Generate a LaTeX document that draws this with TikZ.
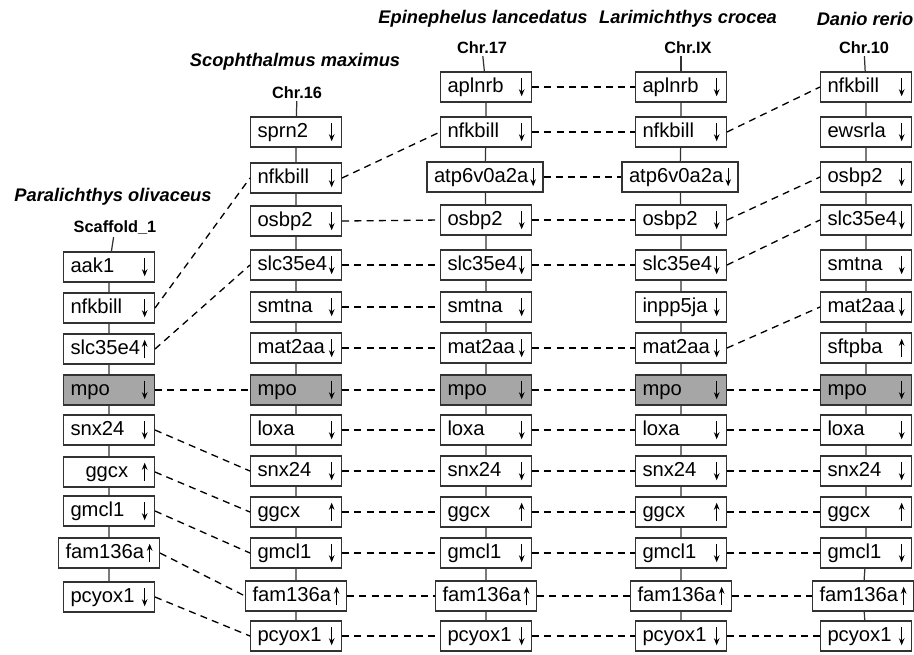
\documentclass[tikz,border=0pt]{standalone}
\usepackage{fontspec}
\setmainfont{Liberation Sans}
\usepackage{tikz}
\usetikzlibrary{positioning, arrows.meta}
\definecolor{boxline}{RGB}{50,50,50}
\definecolor{mpofill}{RGB}{166,166,166}
\newcommand{\genedn}{\tikz[baseline=0pt, x=1cm, y=1cm]\draw[line width=0.5pt, -{Stealth[length=4pt, width=3.2pt]}] (0,0.29) -- (0,-0.08);}
\newcommand{\geneup}{\tikz[baseline=0pt, x=1cm, y=1cm]\draw[line width=0.5pt, -{Stealth[length=4pt, width=3.2pt]}] (0,-0.08) -- (0,0.29);}

\begin{document}
\begin{tikzpicture}[x=0.02cm, y=-0.02cm,
        gene/.style={rectangle, draw=boxline, line width=0.6pt, fill=white, minimum height=0.6cm, inner xsep=0.14cm, inner ysep=0pt, text width=1.54cm, align=left, font=\fontsize{11.5}{13}\selectfont},
        widegene/.style={gene, text width=1.74cm},
        widestgene/.style={gene, text width=2.04cm},
        query/.style={fill=mpofill},
        species/.style={font=\fontsize{10.4}{12}\selectfont\bfseries\itshape},
        chrom/.style={font=\fontsize{9.3}{11}\selectfont\bfseries, inner sep=1pt},
        chain/.style={draw=boxline, line width=0.7pt},
        link/.style={black, line width=0.75pt, dash pattern=on 4pt off 3pt}
    ]
        \useasboundingbox (0,0) rectangle (914,654);

        \node[species] (po-name) at (113,197) {Paralichthys olivaceus};
        \node[species] (sm-name) at (295,62) {Scophthalmus maximus};
        \node[species] (el-name) at (483,19) {Epinephelus lancedatus};
        \node[species] (lc-name) at (688,19) {Larimichthys crocea};
        \node[species] (dr-name) at (865,19) {Danio rerio};

        \node[chrom] (po-chr) at (115,228) {Scaffold\_1};
        \node[chrom] (sm-chr) at (297,93) {Chr.16};
        \node[chrom] (el-chr) at (482,48) {Chr.17};
        \node[chrom] (lc-chr) at (688,48) {Chr.IX};
        \node[chrom] (dr-chr) at (864,48) {Chr.10};

        \node[gene] (po-aak1) at (109,267) {aak1\hfill\genedn};
        \node[gene] (po-nfkbill) at (109,308) {nfkbill\hfill\genedn};
        \node[gene] (po-slc35e4) at (109,349) {slc35e4\hfill\geneup};
        \node[gene, query] (po-mpo) at (109,390) {mpo\hfill\genedn};
        \node[gene] (po-snx24) at (109,430) {snx24\hfill\genedn};
        \node[gene] (po-ggcx) at (109,472) {\hspace*{0.3cm}ggcx\hfill\geneup};
        \node[gene] (po-gmcl1) at (109,511) {gmcl1\hfill\genedn};
        \node[widegene] (po-fam136a) at (109,553) {fam136a\hfill\geneup};
        \node[gene] (po-pcyox1) at (109,597) {pcyox1\hfill\genedn};

        \node[gene] (sm-sprn2) at (296,132) {sprn2\hfill\genedn};
        \node[gene] (sm-nfkbill) at (296,178) {nfkbill\hfill\genedn};
        \node[gene] (sm-osbp2) at (296,221) {osbp2\hfill\genedn};
        \node[gene] (sm-slc35e4) at (296,265) {slc35e4\hfill\genedn};
        \node[gene] (sm-smtna) at (296,307) {smtna\hfill\genedn};
        \node[gene] (sm-mat2aa) at (296,348) {mat2aa\hfill\genedn};
        \node[gene, query] (sm-mpo) at (296,390) {mpo\hfill\genedn};
        \node[gene] (sm-loxa) at (296,430) {loxa\hfill\genedn};
        \node[gene] (sm-snx24) at (296,471) {snx24\hfill\genedn};
        \node[gene] (sm-ggcx) at (296,512) {ggcx\hfill\geneup};
        \node[gene] (sm-gmcl1) at (296,553) {gmcl1\hfill\genedn};
        \node[widegene] (sm-fam136a) at (296,596) {fam136a\hfill\geneup};
        \node[gene] (sm-pcyox1) at (296,636) {pcyox1\hfill\genedn};

        \node[gene] (el-aplnrb) at (486,87) {aplnrb\hfill\genedn};
        \node[gene] (el-nfkbill) at (486,132) {nfkbill\hfill\genedn};
        \node[widestgene] (el-atp6v0a2a) at (485,177) {atp6v0a2a\hfill\genedn};
        \node[gene] (el-osbp2) at (486,220) {osbp2\hfill\genedn};
        \node[gene] (el-slc35e4) at (486,265) {slc35e4\hfill\genedn};
        \node[gene] (el-smtna) at (486,307) {smtna\hfill\genedn};
        \node[gene] (el-mat2aa) at (486,348) {mat2aa\hfill\genedn};
        \node[gene, query] (el-mpo) at (486,390) {mpo\hfill\genedn};
        \node[gene] (el-loxa) at (486,430) {loxa\hfill\genedn};
        \node[gene] (el-snx24) at (486,471) {snx24\hfill\genedn};
        \node[gene] (el-ggcx) at (486,512) {ggcx\hfill\geneup};
        \node[gene] (el-gmcl1) at (486,553) {gmcl1\hfill\genedn};
        \node[widegene] (el-fam136a) at (486,596) {fam136a\hfill\geneup};
        \node[gene] (el-pcyox1) at (486,636) {pcyox1\hfill\genedn};

        \node[gene] (lc-aplnrb) at (681,87) {aplnrb\hfill\genedn};
        \node[gene] (lc-nfkbill) at (681,132) {nfkbill\hfill\genedn};
        \node[widestgene] (lc-atp6v0a2a) at (680,177) {atp6v0a2a\hfill\genedn};
        \node[gene] (lc-osbp2) at (681,220) {osbp2\hfill\genedn};
        \node[gene] (lc-slc35e4) at (681,265) {slc35e4\hfill\genedn};
        \node[gene] (lc-inpp5ja) at (681,307) {inpp5ja\hfill\genedn};
        \node[gene] (lc-mat2aa) at (681,348) {mat2aa\hfill\genedn};
        \node[gene, query] (lc-mpo) at (681,390) {mpo\hfill\genedn};
        \node[gene] (lc-loxa) at (681,430) {loxa\hfill\genedn};
        \node[gene] (lc-snx24) at (681,471) {snx24\hfill\genedn};
        \node[gene] (lc-ggcx) at (681,512) {ggcx\hfill\geneup};
        \node[gene] (lc-gmcl1) at (681,553) {gmcl1\hfill\genedn};
        \node[widegene] (lc-fam136a) at (681,596) {fam136a\hfill\geneup};
        \node[gene] (lc-pcyox1) at (681,636) {pcyox1\hfill\genedn};

        \node[gene] (dr-nfkbill) at (866,87) {nfkbill\hfill\genedn};
        \node[gene] (dr-ewsrla) at (866,132) {ewsrla\hfill\genedn};
        \node[gene] (dr-osbp2) at (866,177) {osbp2\hfill\genedn};
        \node[gene] (dr-slc35e4) at (866,220) {slc35e4\hfill\genedn};
        \node[gene] (dr-smtna) at (866,265) {smtna\hfill\genedn};
        \node[gene] (dr-mat2aa) at (866,307) {mat2aa\hfill\genedn};
        \node[gene] (dr-sftpba) at (866,348) {sftpba\hfill\geneup};
        \node[gene, query] (dr-mpo) at (866,390) {mpo\hfill\genedn};
        \node[gene] (dr-loxa) at (866,430) {loxa\hfill\genedn};
        \node[gene] (dr-snx24) at (866,471) {snx24\hfill\genedn};
        \node[gene] (dr-ggcx) at (866,512) {ggcx\hfill\geneup};
        \node[gene] (dr-gmcl1) at (866,553) {gmcl1\hfill\genedn};
        \node[widegene] (dr-fam136a) at (863,596) {fam136a\hfill\geneup};
        \node[gene] (dr-pcyox1) at (866,636) {pcyox1\hfill\genedn};

        \draw[chain] (po-chr) -- (po-aak1) -- (po-nfkbill) -- (po-slc35e4) -- (po-mpo) -- (po-snx24) -- (po-ggcx) -- (po-gmcl1) -- (po-fam136a) -- (po-pcyox1);
        \draw[chain] (sm-chr) -- (sm-sprn2) -- (sm-nfkbill) -- (sm-osbp2) -- (sm-slc35e4) -- (sm-smtna) -- (sm-mat2aa) -- (sm-mpo) -- (sm-loxa) -- (sm-snx24) -- (sm-ggcx) -- (sm-gmcl1) -- (sm-fam136a) -- (sm-pcyox1);
        \draw[chain] (el-chr) -- (el-aplnrb) -- (el-nfkbill) -- (el-atp6v0a2a) -- (el-osbp2) -- (el-slc35e4) -- (el-smtna) -- (el-mat2aa) -- (el-mpo) -- (el-loxa) -- (el-snx24) -- (el-ggcx) -- (el-gmcl1) -- (el-fam136a) -- (el-pcyox1);
        \draw[chain] (lc-aplnrb) -- (lc-nfkbill) -- (lc-atp6v0a2a) -- (lc-osbp2) -- (lc-slc35e4) -- (lc-inpp5ja) -- (lc-mat2aa) -- (lc-mpo) -- (lc-loxa) -- (lc-snx24) -- (lc-ggcx) -- (lc-gmcl1) -- (lc-fam136a) -- (lc-pcyox1);
        \draw[chain] (lc-chr.south -| lc-aplnrb) -- (lc-aplnrb);
        \draw[chain] (dr-chr) -- (dr-nfkbill) -- (dr-ewsrla) -- (dr-osbp2) -- (dr-slc35e4) -- (dr-smtna) -- (dr-mat2aa) -- (dr-sftpba) -- (dr-mpo) -- (dr-loxa) -- (dr-snx24) -- (dr-ggcx) -- (dr-gmcl1) -- (dr-fam136a) -- (dr-pcyox1);

        \draw[link] (po-nfkbill.east) -- (sm-nfkbill.west);
        \draw[link] (po-slc35e4.east) -- (sm-slc35e4.west);
        \draw[link] (po-mpo.east) -- (sm-mpo.west);
        \draw[link] (po-snx24.east) -- (sm-snx24.west);
        \draw[link] (po-ggcx.east) -- (sm-ggcx.west);
        \draw[link] (po-gmcl1.east) -- (sm-gmcl1.west);
        \draw[link] (po-fam136a.east) -- (sm-fam136a.west);
        \draw[link] (po-pcyox1.east) -- (sm-pcyox1.west);

        \draw[link] (sm-nfkbill.east) -- (el-nfkbill.west);
        \draw[link] (sm-osbp2.east) -- (el-osbp2.west);
        \draw[link] (sm-slc35e4.east) -- (el-slc35e4.west);
        \draw[link] (sm-smtna.east) -- (el-smtna.west);
        \draw[link] (sm-mat2aa.east) -- (el-mat2aa.west);
        \draw[link] (sm-mpo.east) -- (el-mpo.west);
        \draw[link] (sm-loxa.east) -- (el-loxa.west);
        \draw[link] (sm-snx24.east) -- (el-snx24.west);
        \draw[link] (sm-ggcx.east) -- (el-ggcx.west);
        \draw[link] (sm-gmcl1.east) -- (el-gmcl1.west);
        \draw[link] (sm-fam136a.east) -- (el-fam136a.west);
        \draw[link] (sm-pcyox1.east) -- (el-pcyox1.west);

        \draw[link] (el-aplnrb.east) -- (lc-aplnrb.west);
        \draw[link] (el-nfkbill.east) -- (lc-nfkbill.west);
        \draw[link] (el-atp6v0a2a.east) -- (lc-atp6v0a2a.west);
        \draw[link] (el-osbp2.east) -- (lc-osbp2.west);
        \draw[link] (el-slc35e4.east) -- (lc-slc35e4.west);
        \draw[link] (el-mat2aa.east) -- (lc-mat2aa.west);
        \draw[link] (el-mpo.east) -- (lc-mpo.west);
        \draw[link] (el-loxa.east) -- (lc-loxa.west);
        \draw[link] (el-snx24.east) -- (lc-snx24.west);
        \draw[link] (el-ggcx.east) -- (lc-ggcx.west);
        \draw[link] (el-gmcl1.east) -- (lc-gmcl1.west);
        \draw[link] (el-fam136a.east) -- (lc-fam136a.west);
        \draw[link] (el-pcyox1.east) -- (lc-pcyox1.west);

        \draw[link] (lc-nfkbill.east) -- (dr-nfkbill.west);
        \draw[link] (lc-osbp2.east) -- (dr-osbp2.west);
        \draw[link] (lc-slc35e4.east) -- (dr-slc35e4.west);
        \draw[link] (lc-mat2aa.east) -- (dr-mat2aa.west);
        \draw[link] (lc-mpo.east) -- (dr-mpo.west);
        \draw[link] (lc-loxa.east) -- (dr-loxa.west);
        \draw[link] (lc-snx24.east) -- (dr-snx24.west);
        \draw[link] (lc-ggcx.east) -- (dr-ggcx.west);
        \draw[link] (lc-gmcl1.east) -- (dr-gmcl1.west);
        \draw[link] (lc-fam136a.east) -- (dr-fam136a.west);
        \draw[link] (lc-pcyox1.east) -- (dr-pcyox1.west);
    \end{tikzpicture}
\end{document}
